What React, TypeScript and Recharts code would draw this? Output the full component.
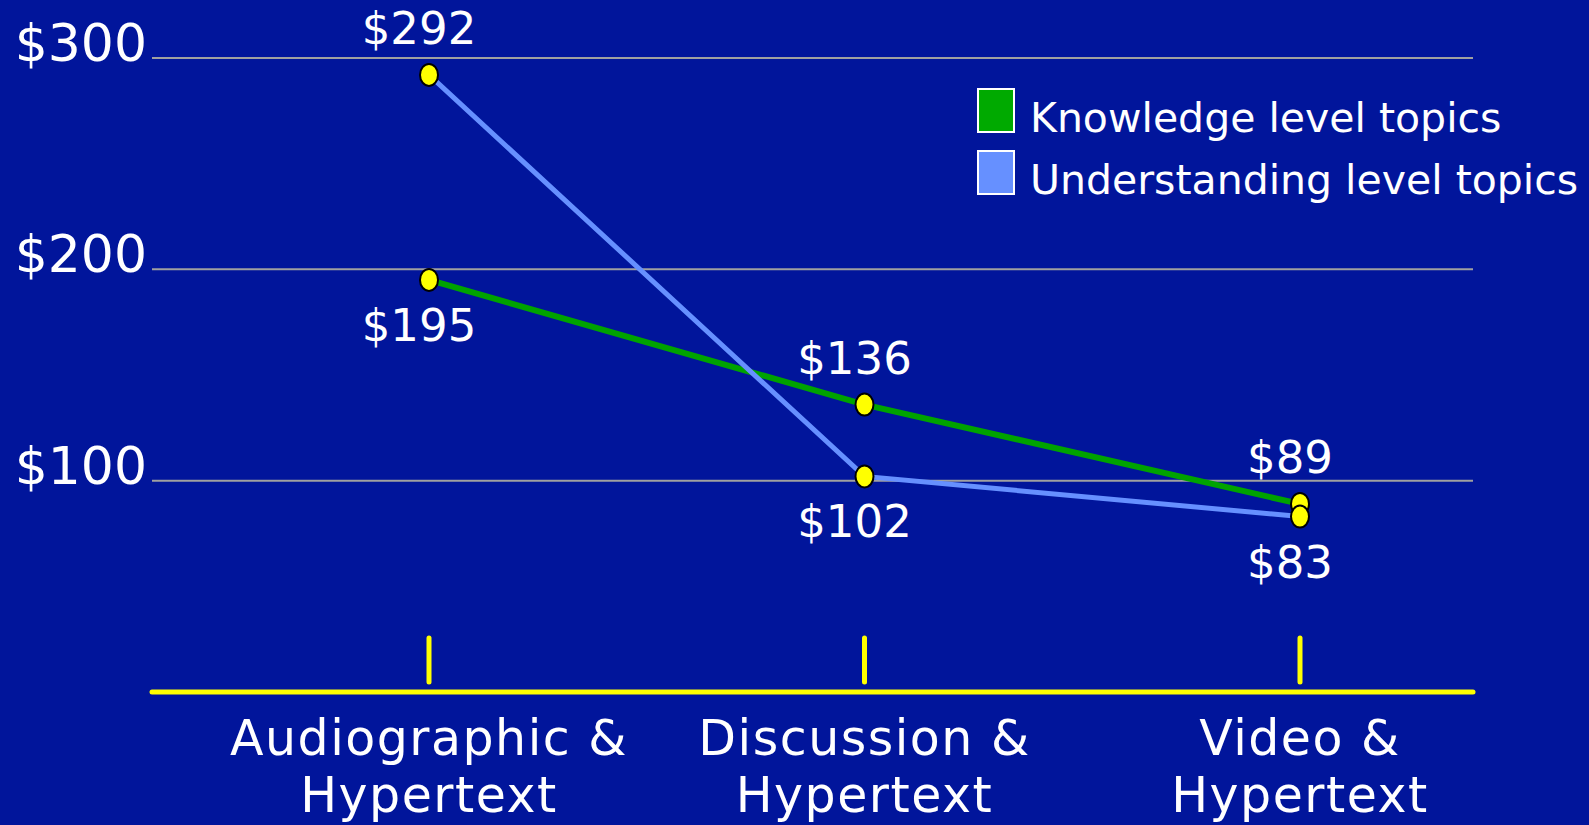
import React from 'react';
import { LineChart, Line, XAxis, YAxis, CartesianGrid, Legend, LabelList } from 'recharts';

const categories = ['Audiographic &\nHypertext', 'Discussion &\nHypertext', 'Video &\nHypertext'];
const knowledgeValues = [195, 136, 89];
const understandingValues = [292, 102, 83];
const yTicks = [100, 200, 300];
const seriesNames = ['Knowledge level topics', 'Understanding level topics'];

const data = categories.map((c, i) => ({
  category: c,
  knowledge: knowledgeValues[i],
  understanding: understandingValues[i],
}));

const FONT = '"DejaVu Sans", Verdana, sans-serif';
const BG = '#01159B';
const GREEN = '#00A300';
const GREEN_BOX = '#00AA00';
const BLUE = '#6690FF';
const BLUE_BOX = '#6690FF';
const YELLOW = '#FFFF00';

const Dot = (props: any) => {
  const { cx, cy, index } = props;
  if (cx == null || cy == null) return null;
  return <ellipse key={index} cx={cx} cy={cy} rx={9} ry={11} fill={YELLOW} stroke="#000" strokeWidth={2} />;
};

const makeLabel = (own: number[], other: number[]) => (props: any) => {
  const { x, y, value } = props;
  const idx = props.index != null ? props.index : own.indexOf(Number(value));
  const above = own[idx] >= other[idx];
  return (
    <text
      x={Number(x) - 10}
      y={above ? Number(y) - 31 : Number(y) + 61}
      textAnchor="middle"
      fill="#fff"
      fontSize={45}
      fontFamily={FONT}
    >
      {'$' + value}
    </text>
  );
};

const XTick = (props: any) => {
  const { x, y, payload } = props;
  const lines = String(payload.value).split('\n');
  return (
    <g>
      <line x1={x} x2={x} y1={y - 54} y2={y - 10} stroke={YELLOW} strokeWidth={5} strokeLinecap="round" />
      {lines.map((l, i) => (
        <text
          key={i}
          x={x}
          y={y + 63 + i * 57}
          textAnchor="middle"
          fill="#fff"
          fontSize={49}
          letterSpacing={1.5}
          fontFamily={FONT}
        >
          {l}
        </text>
      ))}
    </g>
  );
};

const YTick = (props: any) => {
  const { x, y, payload } = props;
  return (
    <text x={x} y={y + 3} textAnchor="end" fill="#fff" fontSize={52} fontFamily={FONT}>
      {'$' + payload.value}
    </text>
  );
};

const boxColors = [GREEN_BOX, BLUE_BOX];

const LegendContent = () => (
  <svg width={689} height={220} style={{ display: 'block', overflow: 'visible' }}>
    {seriesNames.map((n, i) => (
      <g key={n}>
        <rect x={78} y={89 + 62 * i} width={36} height={43} fill={boxColors[i]} stroke="#fff" strokeWidth={2} />
        <text x={130} y={132 + 62 * i} fill="#fff" fontSize={41} fontFamily={FONT}>
          {n}
        </text>
      </g>
    ))}
  </svg>
);

export default function App() {
  return (
    <div style={{ position: 'absolute', top: 0, left: 0, width: 1589, height: 825, background: BG, overflow: 'hidden' }}>
      <LineChart width={1589} height={825} data={data} margin={{ top: 58, right: 116, bottom: 0, left: 0 }}>
        <CartesianGrid horizontal vertical={false} stroke="#A0A0A0" strokeWidth={2} />
        <XAxis
          dataKey="category"
          scale="point"
          padding={{ left: 277, right: 173 }}
          height={133}
          tickSize={0}
          tickMargin={0}
          tick={<XTick />}
          axisLine={{ stroke: YELLOW, strokeWidth: 5, strokeLinecap: 'round' }}
          tickLine={false}
          interval={0}
        />
        <YAxis
          type="number"
          domain={[0, 300]}
          ticks={yTicks}
          width={152}
          tickSize={0}
          tickMargin={5}
          axisLine={false}
          tickLine={false}
          tick={<YTick />}
        />
        <Legend
          verticalAlign="middle"
          align="center"
          layout="horizontal"
          wrapperStyle={{ top: 0, left: 900, width: 689, height: 220 }}
          content={<LegendContent />}
        />
        <Line
          type="linear"
          dataKey="knowledge"
          name={seriesNames[0]}
          stroke={GREEN}
          strokeWidth={6}
          dot={(p: any) => <Dot {...p} key={'k' + p.index} />}
          activeDot={false}
          isAnimationActive={false}
        >
          <LabelList dataKey="knowledge" content={makeLabel(knowledgeValues, understandingValues)} />
        </Line>
        <Line
          type="linear"
          dataKey="understanding"
          name={seriesNames[1]}
          stroke={BLUE}
          strokeWidth={5}
          dot={(p: any) => <Dot {...p} key={'u' + p.index} />}
          activeDot={false}
          isAnimationActive={false}
        >
          <LabelList dataKey="understanding" content={makeLabel(understandingValues, knowledgeValues)} />
        </Line>
      </LineChart>
    </div>
  );
}
